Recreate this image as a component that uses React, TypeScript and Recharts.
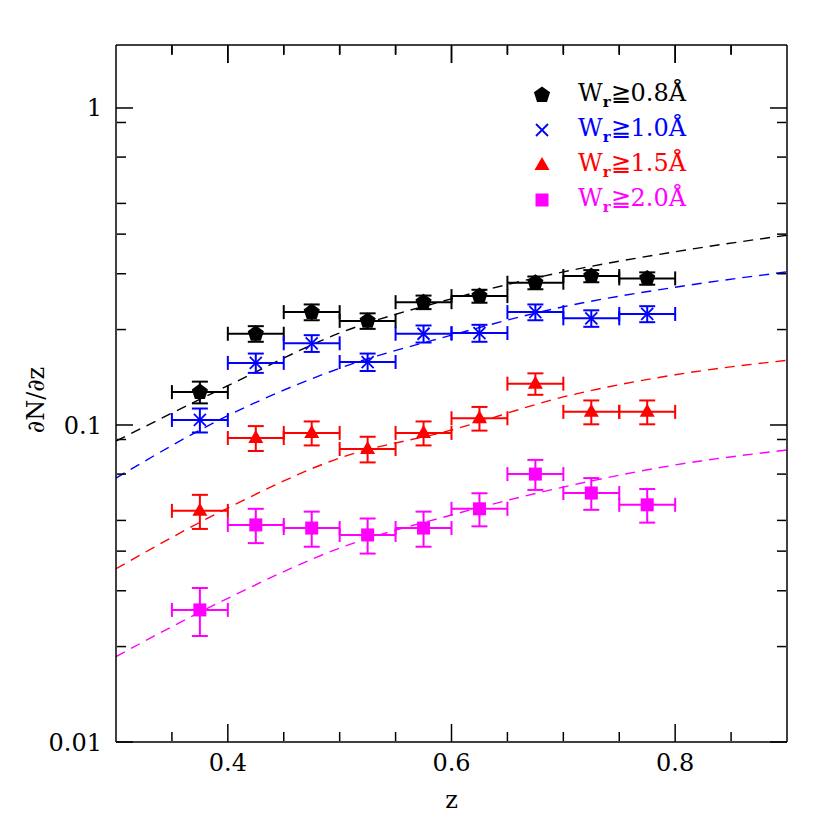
import React from "react";
import {
  ComposedChart,
  Line,
  Scatter,
  ErrorBar,
  XAxis,
  YAxis,
} from "recharts";

// bin centres (z) and half bin width
const Z_BINS = [0.375, 0.425, 0.475, 0.525, 0.575, 0.625, 0.675, 0.725, 0.775];
const HALF_BIN = 0.025;

// dN/dz per bin
const W08_Y = [0.127, 0.194, 0.227, 0.213, 0.244, 0.255, 0.281, 0.295, 0.29];
const W08_ERR = [0.01, 0.011, 0.013, 0.012, 0.012, 0.012, 0.013, 0.013, 0.013];
const W10_Y = [0.1037, 0.157, 0.181, 0.158, 0.194, 0.195, 0.227, 0.217, 0.224];
const W10_ERR = [0.009, 0.011, 0.011, 0.01, 0.012, 0.012, 0.013, 0.013, 0.013];
const W15_Y = [0.0536, 0.091, 0.0944, 0.084, 0.0944, 0.105, 0.135, 0.11, 0.11];
const W15_ERR = [0.0066, 0.0082, 0.0082, 0.0078, 0.0082, 0.009, 0.0105, 0.0095, 0.0095];
const W20_Y = [0.0261, 0.0484, 0.0473, 0.045, 0.0473, 0.0544, 0.07, 0.061, 0.056];
const W20_ERR = [0.0045, 0.006, 0.006, 0.0057, 0.006, 0.0065, 0.0076, 0.007, 0.0068];

// dashed model curves
const CURVE_Z = [0.3, 0.4, 0.5, 0.6, 0.7, 0.8, 0.9];
const W08_CURVE = [0.089, 0.133, 0.195, 0.25, 0.304, 0.352, 0.397];
const W10_CURVE = [0.068, 0.107, 0.151, 0.192, 0.236, 0.272, 0.304];
const W15_CURVE = [0.0352, 0.0547, 0.0787, 0.0964, 0.1226, 0.144, 0.16];
const W20_CURVE = [0.0186, 0.0284, 0.0409, 0.052, 0.0637, 0.0748, 0.0834];

// ticks
const X_MAJOR = [0.4, 0.6, 0.8];
const X_MINOR = [0.35, 0.45, 0.5, 0.55, 0.65, 0.7, 0.75, 0.85];
const Y_MAJOR = [0.01, 0.1, 1];
const Y_MINOR = [
  0.02, 0.03, 0.04, 0.05, 0.06, 0.07, 0.08, 0.09,
  0.2, 0.3, 0.4, 0.5, 0.6, 0.7, 0.8, 0.9,
];

const X_DOMAIN = [0.3, 0.9];
const Y_DOMAIN = [0.01, 1.58];
const FONT = "'DejaVu Serif', 'Liberation Serif', serif";

const SERIES = [
  { key: "w08", label: "0.8", color: "#000000", y: W08_Y, err: W08_ERR, curve: W08_CURVE, marker: "pentagon" },
  { key: "w10", label: "1.0", color: "#0000ff", y: W10_Y, err: W10_ERR, curve: W10_CURVE, marker: "cross" },
  { key: "w15", label: "1.5", color: "#ff0000", y: W15_Y, err: W15_ERR, curve: W15_CURVE, marker: "triangle" },
  { key: "w20", label: "2.0", color: "#ff00ff", y: W20_Y, err: W20_ERR, curve: W20_CURVE, marker: "square" },
];

function Marker({ kind, cx, cy, color }: { kind: string; cx: number; cy: number; color: string }) {
  if (kind === "pentagon") {
    const r = 8.5;
    const pts = [0, 1, 2, 3, 4]
      .map((k) => {
        const a = ((-90 + k * 72) * Math.PI) / 180;
        return `${cx + r * Math.cos(a)},${cy + r * Math.sin(a)}`;
      })
      .join(" ");
    return <polygon points={pts} fill={color} />;
  }
  if (kind === "cross") {
    const h = 6;
    return (
      <g stroke={color} strokeWidth={1.8}>
        <line x1={cx - h} y1={cy - h} x2={cx + h} y2={cy + h} />
        <line x1={cx - h} y1={cy + h} x2={cx + h} y2={cy - h} />
      </g>
    );
  }
  if (kind === "triangle") {
    return (
      <polygon
        points={`${cx},${cy - 8} ${cx - 7.5},${cy + 5} ${cx + 7.5},${cy + 5}`}
        fill={color}
      />
    );
  }
  return <rect x={cx - 6.5} y={cy - 6.5} width={13} height={13} fill={color} />;
}

function LegendBox() {
  return (
    <div style={{ position: "absolute", left: 528, top: 77, fontFamily: FONT }}>
      {SERIES.map((s) => (
        <div key={s.key} style={{ display: "flex", alignItems: "center", height: 35 }}>
          <svg width={30} height={30}>
            <Marker kind={s.marker} cx={14} cy={15} color={s.color} />
          </svg>
          <span style={{ marginLeft: 20, fontSize: 24, color: s.color, whiteSpace: "nowrap" }}>
            W<sub style={{ fontSize: 15, fontWeight: "bold" }}>r</sub>≧{s.label}Å
          </span>
        </div>
      ))}
    </div>
  );
}

const noLabel = () => <g />;

// tick hanging down from the top frame (point sits on the upper domain edge)
const topTick = (len: number) => (p: any) => {
  if (p == null || p.cx == null || p.cy == null) return <g />;
  return <line x1={p.cx} x2={p.cx} y1={p.cy} y2={p.cy + len} stroke="#000" strokeWidth={1.5} />;
};

// root rows only give the tick-only x axes something to bind to
const ROOT_ROWS = CURVE_Z.map((z) => ({ z }));

export default function App() {
  const axisStroke = { stroke: "#000", strokeWidth: 1.5 };
  return (
    <div style={{ position: "absolute", left: 0, top: 0, width: 830, height: 830, background: "#fff" }}>
      <ComposedChart
        width={830}
        height={830}
        data={ROOT_ROWS}
        margin={{ top: 45, right: 43, bottom: 0, left: 0 }}
      >
        {/* labelled axes */}
        <XAxis
          xAxisId="main"
          type="number"
          dataKey="z"
          domain={X_DOMAIN}
          allowDataOverflow
          ticks={X_MAJOR}
          tickFormatter={(v) => v.toFixed(1)}
          tickLine={false}
          tickSize={0}
          tickMargin={12}
          height={88}
          axisLine={axisStroke}
          tick={{ fill: "#000", fontSize: 24, fontFamily: FONT }}
          label={{ value: "z", position: "insideBottom", offset: 22, fill: "#000", fontSize: 24, fontFamily: FONT }}
        />
        <YAxis
          yAxisId="main"
          dataKey="y"
          scale="log"
          domain={Y_DOMAIN}
          allowDataOverflow
          ticks={Y_MAJOR}
          tickFormatter={(v) => String(v)}
          tickLine={false}
          tickSize={0}
          tickMargin={14}
          width={116}
          axisLine={axisStroke}
          tick={{ fill: "#000", fontSize: 24, fontFamily: FONT }}
        />

        {/* inward tick marks */}
        <XAxis xAxisId="bMaj" dataKey="z" type="number" orientation="bottom" mirror height={1} domain={X_DOMAIN} allowDataOverflow ticks={X_MAJOR} tick={noLabel} tickSize={18} tickLine={axisStroke} axisLine={false} />
        <XAxis xAxisId="bMin" dataKey="z" type="number" orientation="bottom" mirror height={1} domain={X_DOMAIN} allowDataOverflow ticks={X_MINOR} tick={noLabel} tickSize={9} tickLine={axisStroke} axisLine={false} />
        <XAxis xAxisId="tMaj" dataKey="z" type="number" orientation="top" mirror height={1} domain={X_DOMAIN} allowDataOverflow ticks={X_MAJOR} tick={noLabel} tickSize={18} tickLine={axisStroke} axisLine={axisStroke} />
        <XAxis xAxisId="tMin" dataKey="z" type="number" orientation="top" mirror height={1} domain={X_DOMAIN} allowDataOverflow ticks={X_MINOR} tick={noLabel} tickSize={9} tickLine={axisStroke} axisLine={false} />
        <YAxis yAxisId="lMaj" orientation="left" mirror width={1} scale="log" domain={Y_DOMAIN} allowDataOverflow ticks={Y_MAJOR} tick={noLabel} tickSize={17} tickLine={axisStroke} axisLine={false} />
        <YAxis yAxisId="lMin" orientation="left" mirror width={1} scale="log" domain={Y_DOMAIN} allowDataOverflow ticks={Y_MINOR} tick={noLabel} tickSize={9} tickLine={axisStroke} axisLine={false} />
        <YAxis yAxisId="rMaj" orientation="right" mirror width={1} scale="log" domain={Y_DOMAIN} allowDataOverflow ticks={Y_MAJOR} tick={noLabel} tickSize={17} tickLine={axisStroke} axisLine={axisStroke} />
        <YAxis yAxisId="rMin" orientation="right" mirror width={1} scale="log" domain={Y_DOMAIN} allowDataOverflow ticks={Y_MINOR} tick={noLabel} tickSize={9} tickLine={axisStroke} axisLine={false} />

        {/* top-edge ticks, drawn again as points on the upper domain edge */}
        <Scatter
          xAxisId="main"
          yAxisId="main"
          data={X_MAJOR.map((z) => ({ z, y: Y_DOMAIN[1] }))}
          fill="#000"
          isAnimationActive={false}
          shape={topTick(18)}
        />
        <Scatter
          xAxisId="main"
          yAxisId="main"
          data={X_MINOR.map((z) => ({ z, y: Y_DOMAIN[1] }))}
          fill="#000"
          isAnimationActive={false}
          shape={topTick(9)}
        />

        {SERIES.map((s) => (
          <Line
            key={`${s.key}-curve`}
            xAxisId="main"
            yAxisId="main"
            data={CURVE_Z.map((z, i) => ({ z, y: s.curve[i] }))}
            dataKey="y"
            type="monotone"
            stroke={s.color}
            strokeWidth={1.4}
            strokeDasharray="10 7"
            dot={false}
            activeDot={false}
            isAnimationActive={false}
          />
        ))}

        {SERIES.map((s) => (
          <Scatter
            key={`${s.key}-pts`}
            xAxisId="main"
            yAxisId="main"
            data={Z_BINS.map((z, i) => ({ z, y: s.y[i], yErr: s.err[i], xErr: HALF_BIN }))}
            fill={s.color}
            isAnimationActive={false}
            shape={(p: any) => <Marker kind={s.marker} cx={p.cx} cy={p.cy} color={s.color} />}
          >
            <ErrorBar dataKey="xErr" direction="x" width={7} stroke={s.color} strokeWidth={2} />
            <ErrorBar dataKey="yErr" direction="y" width={8} stroke={s.color} strokeWidth={2} />
          </Scatter>
        ))}
      </ComposedChart>

      <div
        style={{
          position: "absolute",
          left: 36,
          top: 400,
          transform: "translate(-50%, -50%) rotate(-90deg)",
          fontFamily: FONT,
          fontSize: 24,
          whiteSpace: "nowrap",
        }}
      >
        ∂N/∂z
      </div>
      <LegendBox />
    </div>
  );
}
